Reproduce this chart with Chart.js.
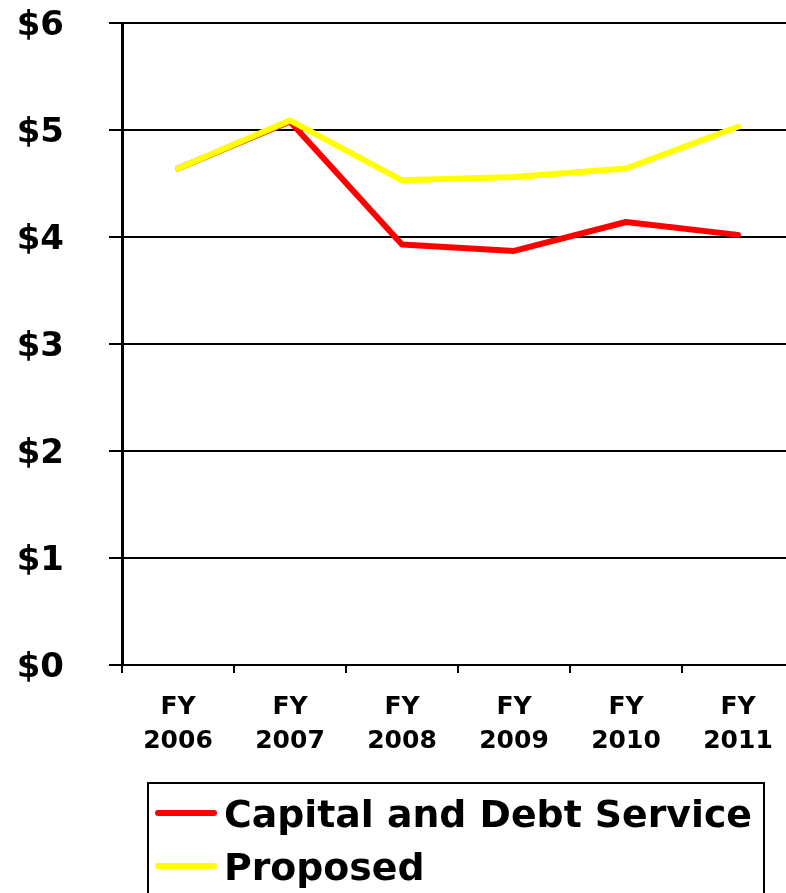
<!DOCTYPE html>
<html>
<head>
<meta charset="utf-8">
<script src="https://cdn.jsdelivr.net/npm/chart.js@4/dist/chart.umd.min.js"></script>
<style>
  html, body { margin: 0; padding: 0; background: #fff; overflow: hidden; }
  #wrap { position: relative; width: 800px; height: 893px; }
</style>
</head>
<body>
<div id="wrap"><canvas id="c"></canvas></div>
<script>
const categories = [['FY', '2006'], ['FY', '2007'], ['FY', '2008'], ['FY', '2009'], ['FY', '2010'], ['FY', '2011']];
const capitalDebt = [4.64, 5.08, 3.93, 3.87, 4.14, 4.02];
const proposed = [4.64, 5.09, 4.53, 4.56, 4.64, 5.03];
const seriesNames = ['Capital and Debt Service', 'Proposed'];
const yTicks = [0, 1, 2, 3, 4, 5, 6];

const FONT = "'DejaVu Sans', Verdana, sans-serif";

const boxLegend = {
  id: 'boxLegend',
  afterDraw(chart) {
    const ctx = chart.ctx;
    ctx.save();
    ctx.strokeStyle = '#000';
    ctx.lineWidth = 2;
    ctx.strokeRect(148, 783, 616, 130);
    const rows = [827, 880];
    chart.data.datasets.forEach((ds, i) => {
      const base = rows[i];
      ctx.beginPath();
      ctx.strokeStyle = ds.borderColor;
      ctx.lineWidth = 6;
      ctx.lineCap = 'round';
      ctx.moveTo(158, base - 14);
      ctx.lineTo(214, base - 14);
      ctx.stroke();
      ctx.fillStyle = '#000';
      ctx.font = "bold 37.8px " + FONT;
      ctx.textBaseline = 'alphabetic';
      ctx.textAlign = 'left';
      ctx.fillText(ds.label, 224, base);
    });
    ctx.restore();
  }
};

new Chart(document.getElementById('c'), {
  type: 'line',
  data: {
    labels: categories,
    datasets: [
      { label: seriesNames[0], data: capitalDebt, borderColor: '#FF0000', backgroundColor: '#FF0000',
        borderWidth: 6, pointRadius: 0, tension: 0, borderCapStyle: 'round', borderJoinStyle: 'round', order: 1 },
      { label: seriesNames[1], data: proposed, borderColor: '#FFFF00', backgroundColor: '#FFFF00',
        borderWidth: 6, pointRadius: 0, tension: 0, borderCapStyle: 'round', borderJoinStyle: 'round', order: 0 }
    ]
  },
  options: {
    responsive: true,
    maintainAspectRatio: false,
    animation: false,
    layout: { padding: { top: 23, right: 6, bottom: 128, left: 0 } },
    plugins: { legend: { display: false }, tooltip: { enabled: false } },
    scales: {
      x: {
        offset: true,
        grid: { offset: true, drawOnChartArea: false, drawTicks: true, tickLength: 8, color: '#000', lineWidth: 2 },
        border: { display: true, color: '#000', width: 2 },
        ticks: { color: '#000', font: { family: FONT, size: 25, weight: 'bold', lineHeight: 1.36 }, padding: 17, maxRotation: 0, autoSkip: false },
        afterFit(scale) { scale.height = 100; }
      },
      y: {
        min: 0, max: 6,
        afterBuildTicks(scale) { scale.ticks = yTicks.map(v => ({ value: v })); },
        grid: { color: '#000', lineWidth: 2, tickLength: 13, drawTicks: true },
        border: { display: true, color: '#000', width: 3 },
        ticks: { color: '#000', padding: 45, labelOffset: 3, font: { family: FONT, size: 34, weight: 'bold' }, callback: v => '$' + v },
        afterFit(scale) { scale.width = 122; scale.paddingTop = 0; scale.paddingBottom = 0; }
      }
    }
  },
  plugins: [boxLegend]
});
</script>
</body>
</html>
